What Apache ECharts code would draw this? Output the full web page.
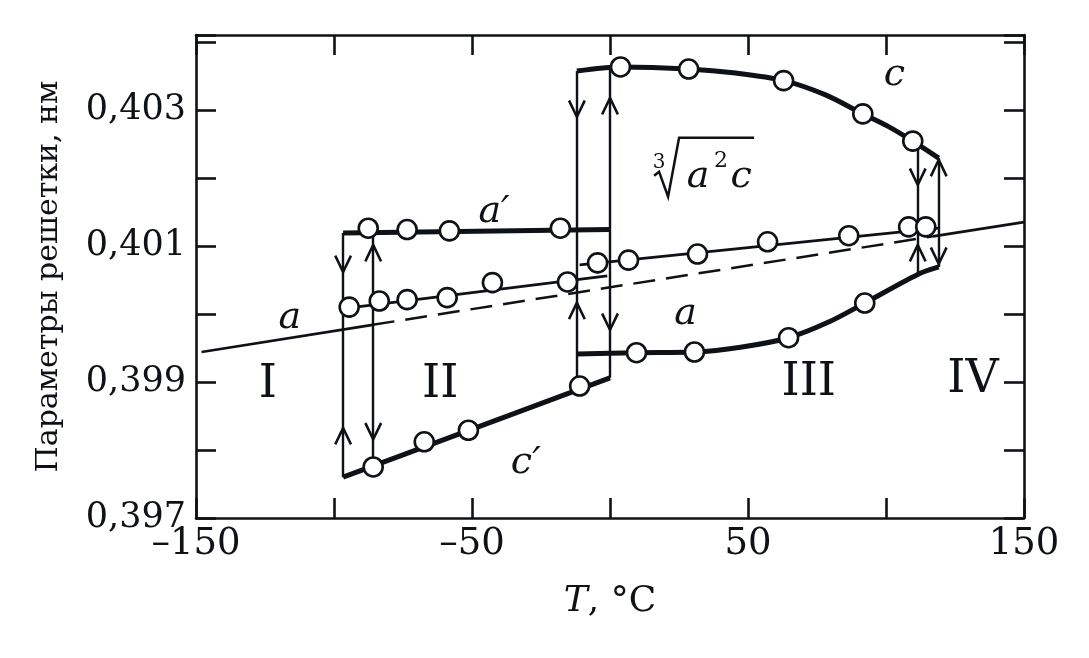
<!DOCTYPE html>
<html><head><meta charset="utf-8">
<script src="https://cdn.jsdelivr.net/npm/echarts/dist/echarts.min.js"></script>
<style>html,body{margin:0;padding:0;background:#fff}#c{width:1089px;height:658px}</style>
</head><body><div id="c"></div>
<script>
// ---- data (T in °C, lattice parameter in nm) ----
const xTickValues = [-150, -100, -50, 0, 50, 100, 150];
const yTickValues = [0.397, 0.398, 0.399, 0.400, 0.401, 0.402, 0.403];
const aLineLeft   = [[-148, 0.39944], [-86, 0.39984]];
const aLineDashed = [[-86, 0.39984], [117, 0.40114]];
const aLineRight  = [[117, 0.40114], [150, 0.40135]];
const rootLineII  = [[-94.5, 0.40009], [-1, 0.40056]];
const rootPtsII   = [[-94.5, 0.40010], [-83.6, 0.40019], [-73.5, 0.40021], [-59, 0.40024], [-42.6, 0.40046], [-15.4, 0.40047]];
const rootLineIII = [[-11, 0.40072], [119, 0.40126]];
const rootPtsIII  = [[-4.5, 0.40075], [6.7, 0.40079], [31.7, 0.40088], [57.1, 0.40106], [86.5, 0.40115], [108.2, 0.40128], [114.4, 0.40128]];
const aPrimeLine  = [[-96.7, 0.40119], [0, 0.40124]];
const aPrimePts   = [[-87.6, 0.40126], [-73.5, 0.40124], [-58.2, 0.40122], [-18, 0.40126]];
const cPrimeLine  = [[-96.7, 0.39760], [0, 0.39906]];
const cPrimePts   = [[-85.8, 0.39775], [-67.3, 0.39812], [-51.3, 0.39829], [-11, 0.39894]];
const cLine       = [[-12, 0.40357], [3.8, 0.40363], [28.5, 0.40360], [45.5, 0.40354], [62.9, 0.40343], [78.1, 0.40322], [91.6, 0.40294], [100.6, 0.40276], [109.7, 0.40254], [119.1, 0.40229]];
const cPts        = [[3.8, 0.40363], [28.5, 0.40360], [62.9, 0.40343], [91.6, 0.40294], [109.7, 0.40254]];
const aLowLine    = [[-12, 0.39941], [9.6, 0.39943], [30.6, 0.39944], [47.3, 0.39951], [64.7, 0.39965], [79.2, 0.39988], [92.3, 0.40016], [111.5, 0.40058], [119.1, 0.40069]];
const aLowPts     = [[9.6, 0.39943], [30.6, 0.39944], [64.7, 0.39965], [92.3, 0.40016]];
// transitions: [T, from, to]
const transitions = [[-96.7, 0.39760, 0.40119], [-85.8, 0.39775, 0.40126], [-12, 0.39894, 0.40357], [0, 0.39906, 0.40362], [111.5, 0.40058, 0.40252], [119.1, 0.40069, 0.40229]];
const arrowsUp    = [[-96.7, 0.39822], [-85.8, 0.40091], [-12, 0.40006], [0, 0.40307], [111.5, 0.40091], [119.1, 0.40216]];
const arrowsDown  = [[-96.7, 0.40072], [-85.8, 0.39826], [-12, 0.40300], [0, 0.39987], [111.5, 0.40200], [119.1, 0.40084]];
const textLabels  = [
  {text: 'a', italic: true, at: [-116, 0.39994]},
  {text: 'I', at: [-124, 0.39896]},
  {text: 'II', at: [-61.5, 0.39896]},
  {text: 'III', at: [72, 0.39899]},
  {text: 'IV', at: [131.5, 0.39903]},
  {text: 'a′', italic: true, at: [-42, 0.40150]},
  {text: 'c', italic: true, at: [103, 0.40351]},
  {text: 'c′', italic: true, at: [-30.5, 0.39781]},
  {text: 'a', italic: true, at: [27.4, 0.39999]}
];
const rootLabelAt = [33, 0.40212];

const INK = '#0e1116';
const SERIF = 'DejaVu Serif';
const chart = echarts.init(document.getElementById('c'), null, {renderer: 'canvas'});

function axisCommon(extra) {
  return Object.assign({
    type: 'value',
    axisLine: {show: true, onZero: false, lineStyle: {color: INK, width: 2.6}},
    axisTick: {show: true, inside: true, length: 20, lineStyle: {color: INK, width: 2.6}},
    splitLine: {show: false}
  }, extra);
}
const lineS = (data, width, extra) => Object.assign({
  type: 'line', data, symbol: 'none', lineStyle: {color: INK, width}, z: 2, animation: false, silent: true
}, extra || {});
const circS = (data) => ({
  type: 'scatter', data, symbol: 'circle', symbolSize: 19, z: 5, animation: false, silent: true,
  itemStyle: {color: '#fff', borderColor: INK, borderWidth: 2.6, opacity: 1}
});
const chevron = 'path://M10,0 L20,19 L17.5,20.4 L10,6 L2.5,20.4 L0,19 Z';

chart.setOption({
  backgroundColor: '#fff',
  animation: false,
  grid: {left: 196, right: 65, top: 35, bottom: 140, containLabel: false, outerBoundsMode: 'none'},
  xAxis: [
    axisCommon({
      min: -150, max: 150, interval: 50, position: 'bottom',
      axisLabel: {
        margin: 8, color: INK, fontFamily: SERIF, fontSize: 37,
        formatter: v => (Math.abs(v) % 100 === 50 && xTickValues.includes(v)) ? String(v).replace('-', '–') : ''
      },
      name: '{i|T}, °C', nameLocation: 'middle', nameGap: 66,
      nameTextStyle: {color: INK, fontFamily: SERIF, fontSize: 36,
        rich: {i: {fontStyle: 'italic', fontFamily: SERIF, fontSize: 36, color: INK}}}
    }),
    axisCommon({min: -150, max: 150, interval: 50, position: 'top', axisLabel: {show: false}})
  ],
  yAxis: [
    axisCommon({
      min: 0.397, max: 0.4041, interval: 0.001, position: 'left',
      axisLabel: {
        margin: 10, color: INK, fontFamily: SERIF, fontSize: 35,
        formatter: v => {
          const k = Math.round(v * 1000);
          return (k % 2 === 1 && yTickValues.some(t => Math.abs(t - v) < 1e-7)) ? (k / 1000).toFixed(3).replace('.', ',') : '';
        }
      },
      name: 'Параметры решетки, нм', nameLocation: 'middle', nameGap: 132, nameRotate: 90,
      nameTextStyle: {color: INK, fontFamily: SERIF, fontSize: 30}
    }),
    axisCommon({min: 0.397, max: 0.4041, interval: 0.001, position: 'right', axisLabel: {show: false}})
  ],
  series: [
    lineS(aLineLeft, 2.7),
    lineS(aLineDashed, 2.5, {lineStyle: {color: INK, width: 2.5, type: [22, 11]}}),
    lineS(aLineRight, 2.7),
    lineS(rootLineII, 2.7),
    lineS(rootLineIII, 2.7),
    lineS(aPrimeLine, 5),
    lineS(cPrimeLine, 5),
    lineS(cLine, 5, {smooth: 0.3}),
    lineS(aLowLine, 5, {smooth: 0.3}),
    {
      type: 'lines', coordinateSystem: 'cartesian2d', polyline: false, z: 3, silent: true, animation: false,
      lineStyle: {color: INK, width: 2.4, opacity: 1},
      data: transitions.map(t => ({coords: [[t[0], t[1]], [t[0], t[2]]]}))
    },
    {
      type: 'scatter', data: arrowsUp, symbol: chevron, symbolSize: [18, 20], symbolKeepAspect: false,
      itemStyle: {color: INK, opacity: 1}, z: 4, silent: true, animation: false
    },
    {
      type: 'scatter', data: arrowsDown, symbol: chevron, symbolSize: [18, 20], symbolRotate: 180, symbolKeepAspect: false,
      itemStyle: {color: INK, opacity: 1}, z: 4, silent: true, animation: false
    },
    circS(rootPtsII),
    circS(rootPtsIII),
    circS(aPrimePts),
    circS(cPrimePts),
    circS(cPts),
    circS(aLowPts)
  ]
});

// annotations placed in data coordinates
const px = at => chart.convertToPixel({gridIndex: 0}, at);
const mkText = (x, y, text, size, italic) => ({
  type: 'text', x, y, silent: true, z: 10,
  style: {text, fill: INK, font: (italic ? 'italic ' : '') + size + 'px "' + SERIF + '"', textAlign: 'center', textVerticalAlign: 'middle'}
});
const g = textLabels.map(l => {
  const q = px(l.at);
  return mkText(q[0], q[1], l.text, l.italic ? 38 : 46, !!l.italic);
});
// cube-root label  ∛(a²c)
const p = px(rootLabelAt);
g.push(
  {type: 'polyline', silent: true, z: 10,
   shape: {points: [[p[0] - 47, p[1] + 6], [p[0] - 42, p[1] + 2], [p[0] - 33, p[1] + 27], [p[0] - 22, p[1] - 32], [p[0] + 53, p[1] - 32]]},
   style: {stroke: INK, lineWidth: 2.5, fill: null}},
  mkText(p[0] - 42, p[1] - 7, '3', 20, false),
  mkText(p[0] - 3, p[1] + 7, 'a', 38, true),
  mkText(p[0] + 20, p[1] - 8, '2', 22, false),
  mkText(p[0] + 40, p[1] + 7, 'c', 38, true)
);
chart.setOption({graphic: g});
</script></body></html>
